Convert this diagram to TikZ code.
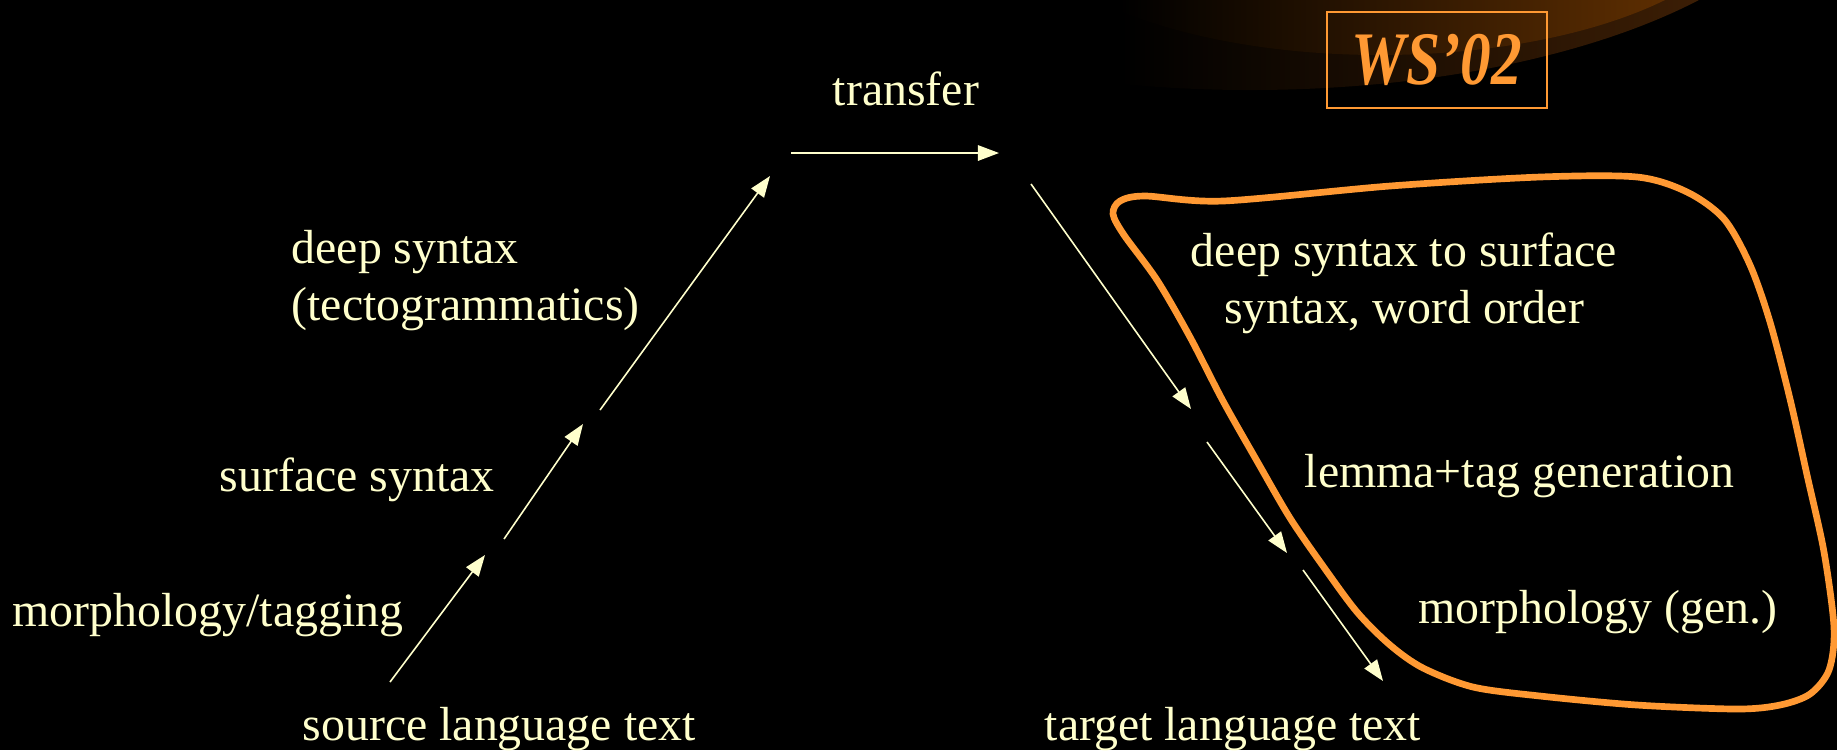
\documentclass[tikz,border=0pt]{standalone}
\usepackage{fontspec}
\setmainfont{Liberation Serif}
\usetikzlibrary{arrows.meta}
\definecolor{txt}{HTML}{FFFFCC}
\definecolor{org}{HTML}{FF9933}
\definecolor{bandA}{HTML}{4A2506}
\definecolor{bandB}{HTML}{7A3C02}
\begin{document}
\begin{tikzpicture}[x=0.01cm,y=-0.01cm,
  lbl/.style={text=txt, font=\fontsize{13.6}{16}\selectfont, inner sep=0pt},
  flow/.style={draw=txt, line width=0.45pt, -{Triangle[length=6pt,width=4.4pt]}},
  blob/.style={draw=org, line width=1.9pt},
  wsbox/.style={draw=org, line width=0.7pt, text=org, minimum width=2.2cm, minimum height=0.96cm, inner sep=0pt}]
\fill[black] (0,0) rectangle (1837,750);
\useasboundingbox (0,0) rectangle (1837,750);
% decorative glow, top right
\begin{scope}
  \clip (0,0) rectangle (1837,750);
  \begin{scope}
    \clip (1250,-150) ellipse [x radius=575, y radius=240];
    \shade[left color=black, right color=bandA] (1120,-10) rectangle (1837,120);
  \end{scope}
  \begin{scope}
    \clip (1380,-100) ellipse [x radius=373, y radius=155];
    \shade[left color=black, right color=bandB] (1120,-10) rectangle (1837,120);
  \end{scope}
\end{scope}
% title box
\node[wsbox] (ws) at (1437,60) {\scalebox{0.81}[1]{\fontsize{21.5}{24}\selectfont\bfseries\itshape WS’02}};
% blob
\draw[blob] plot[smooth cycle, tension=0.5] coordinates {
 (1120,201) (1145,196) (1223,201) (1390,186) (1540,177) (1637,177) (1687,192)
 (1724,219) (1750,265) (1770,322) (1790,399) (1807,475) (1824,552) (1834,628)
 (1829,670) (1810,694) (1780,705) (1737,709) (1637,705) (1540,696) (1473,687)
 (1423,668) (1390,645) (1357,612) (1323,566) (1290,518) (1257,461) (1223,401)
 (1190,337) (1157,280) (1124,235) (1113,214)};
% labels
\node[lbl, anchor=base] (transfer) at (906,105) {transfer};
\node[lbl, anchor=base west, align=left] (deep) at (291,320) {deep syntax\\(tectogrammatics)};
\node[lbl, anchor=base west] (surf) at (219,491) {surface syntax};
\node[lbl, anchor=base west] (morph) at (12,626) {morphology/tagging};
\node[lbl, anchor=base west] (src) at (302,740) {source language text};
\node[lbl, anchor=base west] (tgt) at (1044,740) {target language text};
\node[lbl, anchor=base, align=center] (d2s) at (1404,323) {deep syntax to surface\\syntax, word order};
\node[lbl, anchor=base west] (lemma) at (1304,487) {lemma+tag generation};
\node[lbl, anchor=base west] (mgen) at (1418,623) {morphology (gen.)};
% arrow end points
\coordinate (a1s) at (390,682); \coordinate (a1e) at (485,555);
\coordinate (a2s) at (504,539); \coordinate (a2e) at (583,424);
\coordinate (a3s) at (600,410); \coordinate (a3e) at (770,176);
\coordinate (ts) at (791,153);  \coordinate (te) at (999,153);
\coordinate (b1s) at (1031,184); \coordinate (b1e) at (1191,409);
\coordinate (b2s) at (1207,442); \coordinate (b2e) at (1287,553);
\coordinate (b3s) at (1303,570); \coordinate (b3e) at (1383,681);
\draw[flow] (a1s) -- (a1e);
\draw[flow] (a2s) -- (a2e);
\draw[flow] (a3s) -- (a3e);
\draw[flow] (ts) -- (te);
\draw[flow] (b1s) -- (b1e);
\draw[flow] (b2s) -- (b2e);
\draw[flow] (b3s) -- (b3e);
\end{tikzpicture}
\end{document}
